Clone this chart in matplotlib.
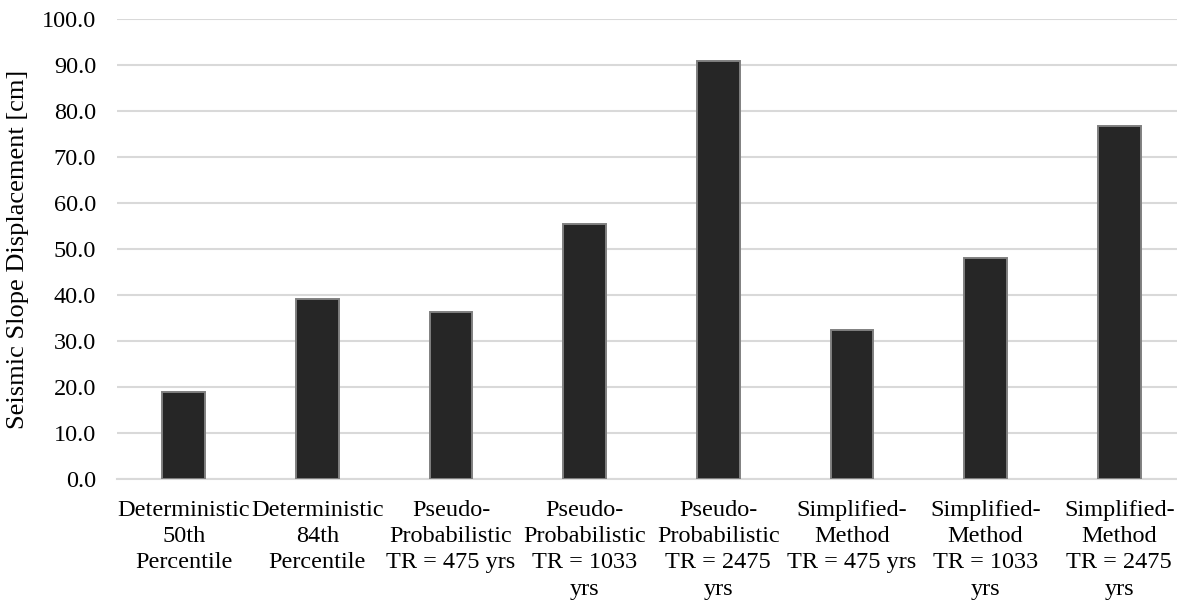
import matplotlib
matplotlib.use("Agg")
import matplotlib.pyplot as plt

categories = [
    "Deterministic\n50th\nPercentile",
    "Deterministic\n84th\nPercentile",
    "Pseudo-\nProbabilistic\nTR = 475 yrs",
    "Pseudo-\nProbabilistic\nTR = 1033\nyrs",
    "Pseudo-\nProbabilistic\nTR = 2475\nyrs",
    "Simplified-\nMethod\nTR = 475 yrs",
    "Simplified-\nMethod\nTR = 1033\nyrs",
    "Simplified-\nMethod\nTR = 2475\nyrs",
]
displacement_cm = [19.0, 39.1, 36.2, 55.4, 90.9, 32.4, 48.0, 76.7]
y_ticks = [0, 10, 20, 30, 40, 50, 60, 70, 80, 90, 100]

plt.rcParams["font.family"] = ["Liberation Serif", "DejaVu Serif"]

W, H = 1177, 603
fig = plt.figure(figsize=(W / 100, H / 100), dpi=100)
left, right, bottom, top = 117, 1186, 479, 19
ax = fig.add_axes([left / W, (H - bottom) / H, (right - left) / W, (bottom - top) / H])

x = list(range(len(categories)))
ax.bar(x, displacement_cm, width=0.32, color="#262626", edgecolor="#808080",
       linewidth=1.4, zorder=3)

ax.set_xlim(-0.5, len(categories) - 0.5)
ax.set_ylim(0, 100)
ax.set_yticks(y_ticks)
ax.set_yticklabels([f"{v:.1f}" for v in y_ticks], fontsize=17.5)
ax.set_xticks(x)
ax.set_xticklabels(categories, fontsize=17.5, linespacing=1.33)
ax.tick_params(axis="y", length=0, pad=15)
ax.tick_params(axis="x", length=0, pad=15)

ax.yaxis.grid(True, color="#d9d9d9", linewidth=1.5, zorder=0)
for s in ["top", "right", "left"]:
    ax.spines[s].set_visible(False)
ax.spines["bottom"].set_color("#d9d9d9")
ax.spines["bottom"].set_linewidth(1.5)

ax.set_ylabel("Seismic Slope Displacement [cm]", fontsize=19, labelpad=9)

fig.savefig("out.png", dpi=100)
